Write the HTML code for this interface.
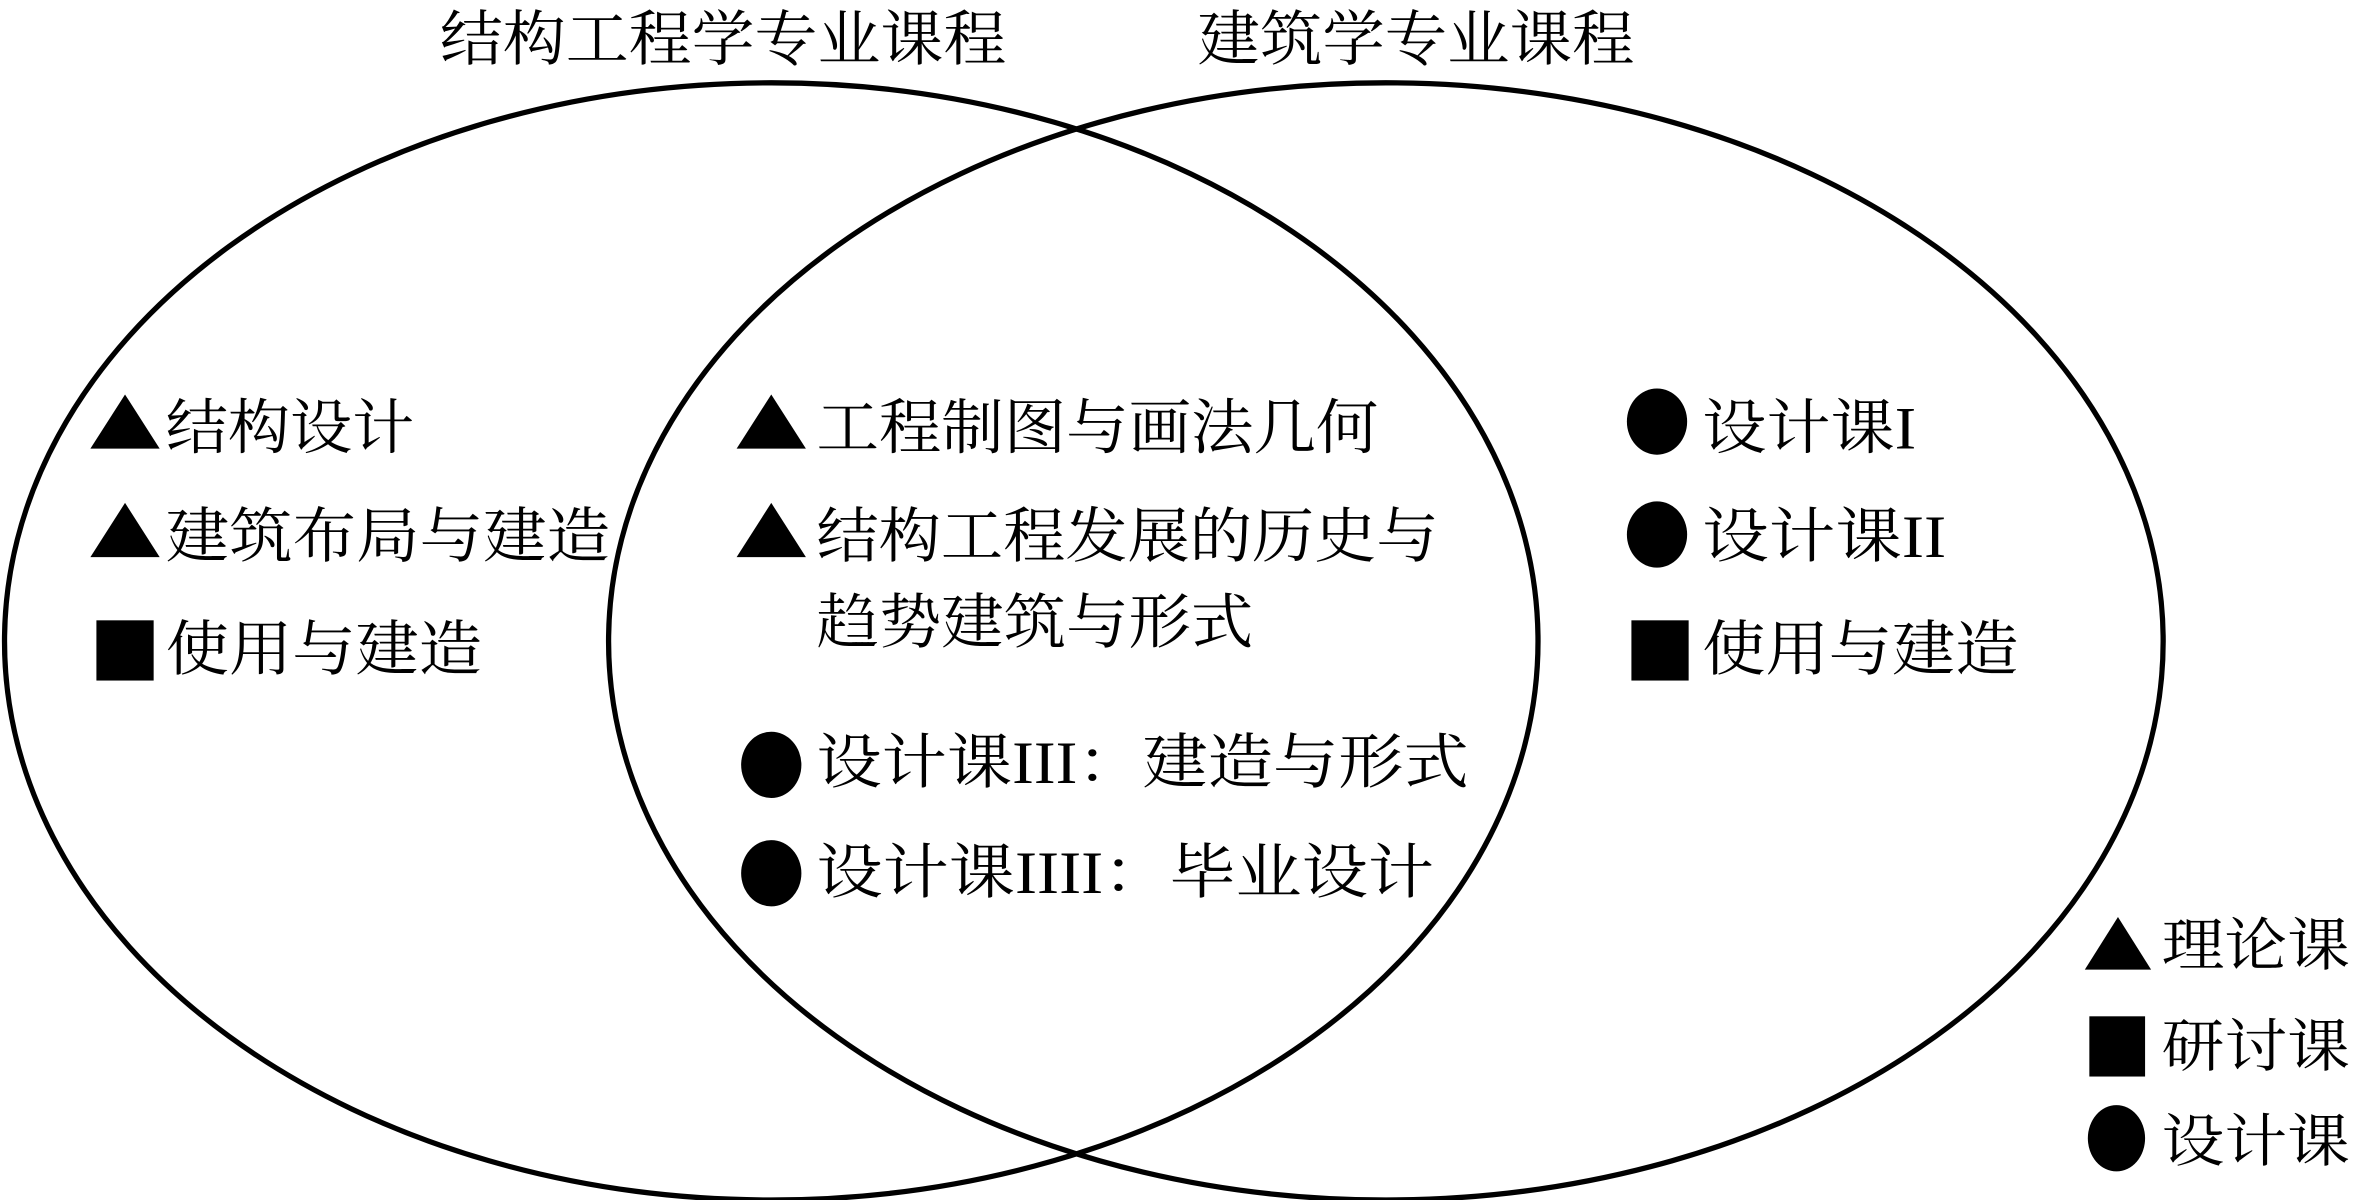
<!DOCTYPE html>
<html><head><meta charset="utf-8"><style>
html,body{margin:0;padding:0;background:#fff;width:2362px;height:1200px;overflow:hidden}
svg{display:block}
text{font-family:"Liberation Serif","Noto Serif CJK SC",serif;fill:#000}
</style></head><body>
<svg width="2362" height="1200" viewBox="0 0 1568 797" preserveAspectRatio="none">
<ellipse cx="512" cy="426" rx="509" ry="371" fill="none" stroke="#000" stroke-width="3.5"/>
<ellipse cx="920" cy="426" rx="516" ry="371" fill="none" stroke="#000" stroke-width="3.5"/>
<g font-size="40" lengthAdjust="spacingAndGlyphs">
<text x="292" y="40" textLength="376" lengthAdjust="spacingAndGlyphs">结构工程学专业课程</text>
<text x="795" y="40" textLength="290" lengthAdjust="spacingAndGlyphs">建筑学专业课程</text>
<text x="110" y="298" textLength="165" lengthAdjust="spacingAndGlyphs">结构设计</text>
<text x="110" y="370" textLength="295" lengthAdjust="spacingAndGlyphs">建筑布局与建造</text>
<text x="110" y="445" textLength="210" lengthAdjust="spacingAndGlyphs">使用与建造</text>
<text x="542" y="298" textLength="373" lengthAdjust="spacingAndGlyphs">工程制图与画法几何</text>
<text x="542" y="370" textLength="413" lengthAdjust="spacingAndGlyphs">结构工程发展的历史与</text>
<text x="542" y="427" textLength="290" lengthAdjust="spacingAndGlyphs">趋势建筑与形式</text>
<text x="542" y="520" textLength="433" lengthAdjust="spacingAndGlyphs">设计课III：建造与形式</text>
<text x="542" y="593" textLength="410" lengthAdjust="spacingAndGlyphs">设计课IIII：毕业设计</text>
<text x="1130" y="298" textLength="142" lengthAdjust="spacingAndGlyphs">设计课I</text>
<text x="1130" y="370" textLength="162" lengthAdjust="spacingAndGlyphs">设计课II</text>
<text x="1130" y="445" textLength="210" lengthAdjust="spacingAndGlyphs">使用与建造</text>
</g>
<g font-size="38">
<text x="1435" y="641" textLength="125" lengthAdjust="spacingAndGlyphs">理论课</text>
<text x="1435" y="708" textLength="125" lengthAdjust="spacingAndGlyphs">研讨课</text>
<text x="1435" y="771" textLength="125" lengthAdjust="spacingAndGlyphs">设计课</text>
</g>
<g fill="#000">
<polygon points="83,262 60,298 106,298"/>
<polygon points="83,334 60,370 106,370"/>
<rect x="64" y="412" width="38" height="40"/>
<polygon points="512,262 489,298 535,298"/>
<polygon points="512,334 489,370 535,370"/>
<ellipse cx="512" cy="508" rx="20" ry="22"/>
<ellipse cx="512" cy="580" rx="20" ry="22"/>
<ellipse cx="1100" cy="280" rx="20" ry="22"/>
<ellipse cx="1100" cy="355" rx="20" ry="22"/>
<rect x="1083" y="412" width="38" height="40"/>
<polygon points="1406,609 1384,644 1428,644"/>
<rect x="1387" y="675" width="37" height="40"/>
<ellipse cx="1405" cy="756" rx="19" ry="22"/>
</g>
</svg>
</body></html>
